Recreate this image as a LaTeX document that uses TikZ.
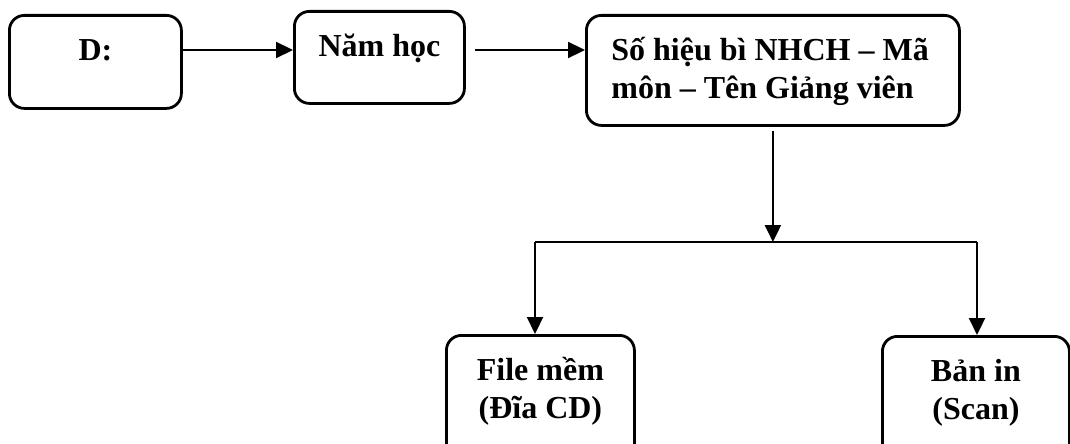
\documentclass[tikz,border=0pt]{standalone}
\usepackage{fontspec}
\setmainfont{Liberation Serif}
\usetikzlibrary{arrows.meta}
\newcommand\bxc[4]{\parbox[c][#2][t]{#1}{\vspace*{11pt}#3\fontsize{32}{38.5}\selectfont\bfseries\rule{0pt}{34pt}#4\par}}
\begin{document}
\begin{tikzpicture}[x=1pt,y=-1pt,
  box/.style={draw, line width=2.8pt, rounded corners=15pt, inner sep=0pt, anchor=north west},
  arr/.style={line width=2.2pt, -{Triangle[length=17pt,width=16pt]}},
  branch/.style={line width=1.5pt}]
\useasboundingbox (0,0) rectangle (1070,444);
\clip (0,0) rectangle (1070,444);
\node[box] (d) at (8,14) {\bxc{172pt}{93pt}{\centering}{D:}};
\node[box] (nam) at (293,10) {\bxc{170pt}{92pt}{\centering}{Năm học}};
\node[box] (main) at (585,14) {\bxc{373pt}{110pt}{\raggedright\leftskip=25pt}{Số hiệu bì NHCH – Mã\\môn – Tên Giảng viên}};
\node[box] (file) at (445,334) {\bxc{188pt}{125pt}{\centering}{File mềm\\(Đĩa CD)}};
\node[box] (ban) at (881,335) {\bxc{187pt}{125pt}{\centering}{Bản in\\(Scan)}};
\coordinate (r1) at (0,50);
\coordinate (jl) at (535,242);
\coordinate (jr) at (977,242);
\draw[arr] (d.east |- r1) -- (nam.west |- r1);
\draw[arr, shorten <=9pt] (nam.east |- r1) -- (main.west |- r1);
\draw[arr, shorten <=4pt] (main.south) -- (main.south |- jl);
\draw[branch] (jl) -- (jr);
\draw[arr] (jl) -- (file.north -| jl);
\draw[arr] (jr) -- (ban.north -| jr);
\end{tikzpicture}
\end{document}
